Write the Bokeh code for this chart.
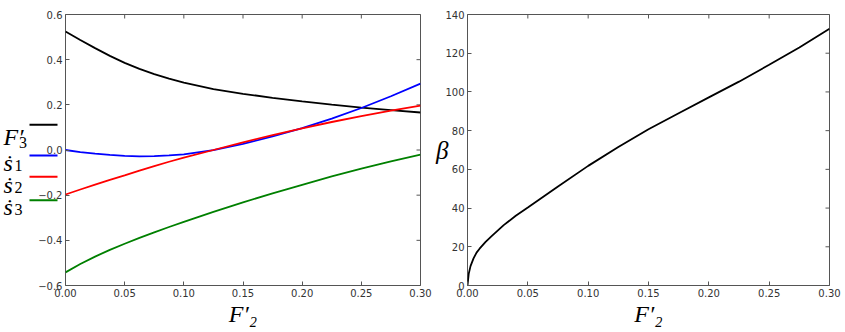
import math
from bokeh.plotting import figure
from bokeh.layouts import row
from bokeh.models import Range1d, FixedTicker
from bokeh.core.properties import value
from bokeh.embed import file_html
from bokeh.resources import INLINE

# ---------------- data ----------------
f2 = [0.0, 0.0125, 0.025, 0.0375, 0.05, 0.0625, 0.075, 0.0875, 0.10,
      0.125, 0.15, 0.175, 0.20, 0.225, 0.25, 0.275, 0.30]
f3 = [0.525, 0.487, 0.451, 0.417, 0.386, 0.359, 0.336, 0.316, 0.298,
      0.270, 0.249, 0.231, 0.215, 0.201, 0.188, 0.177, 0.166]
s1 = [0.0, -0.009, -0.016, -0.022, -0.026, -0.028, -0.027, -0.024, -0.019,
      -0.001, 0.027, 0.060, 0.097, 0.139, 0.186, 0.238, 0.294]
s2 = [-0.197, -0.175, -0.153, -0.132, -0.112, -0.091, -0.071, -0.052, -0.034,
      0.0, 0.034, 0.066, 0.096, 0.124, 0.150, 0.174, 0.196]
s3 = [-0.542, -0.505, -0.472, -0.442, -0.415, -0.389, -0.365, -0.341, -0.318,
      -0.274, -0.232, -0.192, -0.154, -0.117, -0.082, -0.050, -0.020]

f2_beta = [0.0, 0.001, 0.0025, 0.005, 0.0075, 0.01, 0.015, 0.02, 0.03, 0.04, 0.05, 0.075,
           0.10, 0.125, 0.15, 0.175, 0.20, 0.225, 0.25, 0.275, 0.30]
beta = [0.0, 6.0, 10.0, 14.0, 17.0, 19.0, 22.5, 25.5, 31.2, 36.0, 40.3, 51.2,
        61.8, 71.5, 80.7, 89.0, 97.2, 105.3, 114.0, 123.0, 132.6]

x_ticks = [0.0, 0.05, 0.10, 0.15, 0.20, 0.25, 0.30]
x_tick_labels = ["0.00", "0.05", "0.10", "0.15", "0.20", "0.25", "0.30"]
y1_ticks = [-0.6, -0.4, -0.2, 0.0, 0.2, 0.4, 0.6]
y1_tick_labels = ["\u22120.6", "\u22120.4", "\u22120.2", "0.0", "0.2", "0.4", "0.6"]
y2_ticks = [0, 20, 40, 60, 80, 100, 120, 140]
y2_tick_labels = ["0", "20", "40", "60", "80", "100", "120", "140"]

legend_main = ["F\u2032", "\u1e61", "\u1e61", "\u1e61"]
legend_sub = ["3", "1", "2", "3"]
legend_colors = ["#000000", "#0000ff", "#ff0000", "#008000"]
x_label = "F\u2032\u2082"
y2_label = "\u03b2"

SERIF = "Liberation Serif"
TICK_FONT = "DejaVu Sans"
FRAME_COLOR = "#555555"
FIG_H = 330


def style(p, xt, xl, yt, yl):
    p.xgrid.visible = False
    p.ygrid.visible = False
    p.outline_line_color = FRAME_COLOR
    p.outline_line_width = 1
    p.background_fill_color = "white"
    p.border_fill_color = None
    xax = p.below[0]
    yax = p.left[0]
    for ax, ticks, labels in ((xax, xt, xl), (yax, yt, yl)):
        ax.ticker = FixedTicker(ticks=ticks)
        ax.major_label_overrides = {t: s for t, s in zip(ticks, labels)}
        ax.major_tick_in = 4
        ax.major_tick_out = 0
        ax.minor_tick_in = 0
        ax.minor_tick_out = 0
        ax.axis_line_color = None
        ax.major_tick_line_color = FRAME_COLOR
        ax.major_label_text_font = TICK_FONT
        ax.major_label_text_font_size = "10px"
        ax.major_label_text_color = "#333333"
        ax.major_label_standoff = 3
    xax.axis_label = x_label
    xax.axis_label_text_font = SERIF
    xax.axis_label_text_font_style = "italic"
    xax.axis_label_text_font_size = "24px"
    xax.axis_label_text_color = "black"
    xax.axis_label_standoff = 1
    # mirrored inward ticks on the top and right edges: dash markers centred on the
    # frame edge, whose outer half is clipped away by the frame
    top = p.y_range.end
    right = p.x_range.end
    p.scatter(xt, [top] * len(xt), marker="dash", size=8, angle=math.pi / 2,
              line_color=FRAME_COLOR, line_width=1)
    p.scatter([right] * len(yt), yt, marker="dash", size=8,
              line_color=FRAME_COLOR, line_width=1)
    return xax, yax


# ---------------- legend strip (sits under the left border of panel 1) ----------------
# same vertical structure as the left panel, so its y scale equals the left panel's
leg = figure(title=None, width=65, height=FIG_H, min_border_left=0, min_border_right=0,
             min_border_top=13, min_border_bottom=44,
             x_range=Range1d(0, 65), y_range=Range1d(-0.6, 0.6),
             x_axis_location=None, y_axis_location=None,
             output_backend="svg", toolbar_location=None)
leg.xgrid.visible = False
leg.ygrid.visible = False
leg.outline_line_color = None
leg.background_fill_color = "white"
leg.border_fill_color = "white"

leg_text_x = [3, 3, 3, 3]
leg_text_y = [0.057, -0.059, -0.156, -0.253]
leg_sub_x = [18.5, 14.0, 14.0, 14.0]
leg_sub_y = [0.035, -0.068, -0.165, -0.262]
leg_line_y = [0.112, -0.024, -0.119, -0.222]
leg.text(x=leg_text_x, y=leg_text_y, text=legend_main, text_font=value(SERIF),
         text_font_style="italic", text_font_size="24px", text_baseline="alphabetic",
         text_color="black")
leg.text(x=leg_sub_x, y=leg_sub_y, text=legend_sub, text_font=value(SERIF),
         text_font_size="16px", text_baseline="alphabetic", text_color="black")
leg.segment(x0=[29] * 4, x1=[57] * 4, y0=leg_line_y, y1=leg_line_y,
            line_color=legend_colors, line_width=2)

# ---------------- left panel ----------------
p1 = figure(title=None, width=432, height=FIG_H, min_border_left=65, min_border_right=12,
            min_border_top=13, min_border_bottom=44,
            x_range=Range1d(0, 0.3), y_range=Range1d(-0.6, 0.6),
            output_backend="svg", toolbar_location=None)
p1.margin = (0, 0, 0, -65)
style(p1, x_ticks, x_tick_labels, y1_ticks, y1_tick_labels)
for ys, c in zip([f3, s1, s2, s3], legend_colors):
    p1.line(f2, ys, line_color=c, line_width=1.8)

# ---------------- right panel ----------------
p2 = figure(title=None, width=411, height=FIG_H, min_border_left=33, min_border_right=14,
            min_border_top=14, min_border_bottom=45,
            x_range=Range1d(0, 0.3), y_range=Range1d(0, 140),
            output_backend="svg", toolbar_location=None)
_, y2ax = style(p2, x_ticks, x_tick_labels, y2_ticks, y2_tick_labels)
p2.line(f2_beta, beta, line_color="black", line_width=1.8)
y2ax.axis_label = y2_label
y2ax.axis_label_orientation = "horizontal"
y2ax.axis_label_text_font = SERIF
y2ax.axis_label_text_font_style = "italic"
y2ax.axis_label_text_font_size = "25px"
y2ax.axis_label_text_color = "black"
y2ax.axis_label_standoff = -6

layout = row(leg, p1, p2)
open("out.html", "w").write(file_html(layout, INLINE))
